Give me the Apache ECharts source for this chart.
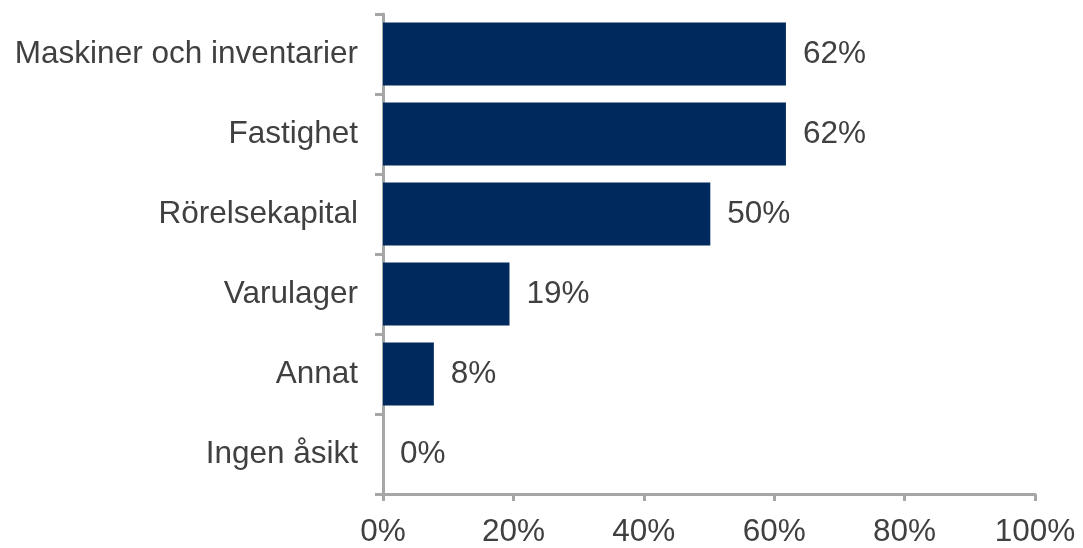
<!DOCTYPE html>
<html>
<head>
<meta charset="utf-8">
<script src="https://cdn.jsdelivr.net/npm/echarts@6/dist/echarts.min.js"></script>
<style>
  html, body { margin: 0; padding: 0; background: #fff; }
  #main { width: 1083px; height: 548px; }
</style>
</head>
<body>
<div id="main"></div>
<script>
var categories = ['Maskiner och inventarier', 'Fastighet', 'Rörelsekapital', 'Varulager', 'Annat', 'Ingen åsikt'];
var values = [61.8, 61.8, 50.2, 19.4, 7.8, 0];
var xTicks = [0, 20, 40, 60, 80, 100];

var axisGray = '#a6a6a6';
var textColor = '#404040';
var font = 'Liberation Sans, Arial, sans-serif';

var myChart = echarts.init(document.getElementById('main'));
myChart.setOption({
    animation: false,
    backgroundColor: '#fff',
    grid: { left: 383, right: 48, top: 14, bottom: 53, containLabel: false },
    xAxis: {
        type: 'value',
        min: xTicks[0],
        max: xTicks[xTicks.length - 1],
        interval: 20,
        axisLine: { show: true, lineStyle: { color: axisGray, width: 3 } },
        axisTick: { show: true, length: 7, lineStyle: { color: axisGray, width: 3 } },
        splitLine: { show: false },
        axisLabel: {
            margin: 22,
            color: textColor,
            fontSize: 31.5,
            fontFamily: font,
            formatter: function (v) { return v + '%'; }
        }
    },
    yAxis: {
        type: 'category',
        inverse: true,
        data: categories,
        axisLine: { show: true, lineStyle: { color: axisGray, width: 3 } },
        axisTick: { show: true, length: 8, lineStyle: { color: axisGray, width: 3 } },
        axisLabel: {
            margin: 25,
            color: textColor,
            fontSize: 31.5,
            fontFamily: font
        }
    },
    series: [{
        type: 'bar',
        data: values,
        barCategoryGap: '21%',
        itemStyle: { color: '#00295e' },
        label: {
            show: true,
            position: 'right',
            distance: 17,
            color: textColor,
            fontSize: 31.5,
            fontFamily: font,
            formatter: function (p) { return Math.round(p.value) + '%'; }
        }
    }]
});
</script>
</body>
</html>
